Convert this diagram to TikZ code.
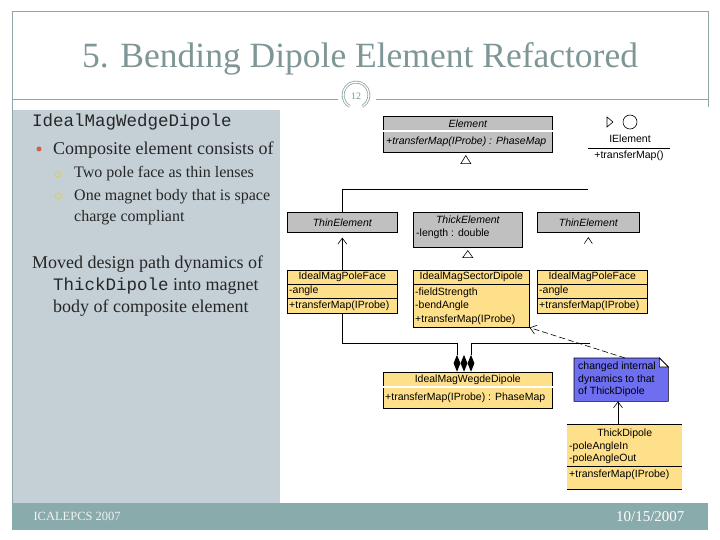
\documentclass[tikz,border=0pt]{standalone}
\usepackage{fontspec}
\setmainfont{Liberation Serif}
\setmonofont{Liberation Mono}
\newfontfamily\umlsans{Liberation Sans}
\usetikzlibrary{positioning,calc,arrows.meta,shapes.geometric}

\definecolor{frameline}{HTML}{8FA6A6}
\definecolor{titlegrey}{HTML}{7E9696}
\definecolor{panelgrey}{HTML}{C5D0D6}
\definecolor{footbar}{HTML}{8AABAB}
\definecolor{umlgrey}{HTML}{C0C0C0}
\definecolor{umlyellow}{HTML}{FFE08A}
\definecolor{noteblue}{HTML}{6E6EF0}
\definecolor{dotred}{HTML}{D0604E}
\definecolor{ringyellow}{HTML}{D8CF6E}

\begin{document}
\begin{tikzpicture}[x=1pt,y=-1pt,
  uml/.style={font=\umlsans\fontsize{10.5}{12}\selectfont, inner sep=1pt},
  cname/.style={uml, anchor=center},
  member/.style={uml, anchor=west},
  classbox/.style={draw, line width=0.6pt, anchor=north west, inner sep=0pt},
  greyclass/.style={classbox, fill=umlgrey},
  yellowclass/.style={classbox, fill=umlyellow},
  slidetext/.style={anchor=base west, inner sep=0pt, text=black!85},
  lvlone/.style={slidetext, font=\fontsize{18}{22}\selectfont},
  lvltwo/.style={slidetext, font=\fontsize{16}{20}\selectfont},
  openhead/.style={-{Straight Barb[length=6pt,width=9pt]}},
  comp/.style={diamond, fill=black, inner sep=0pt, minimum width=7pt, minimum height=17pt, anchor=south}]
\useasboundingbox (0,0) rectangle (720,540);
\fill[white] (0,0) rectangle (720,540);
% slide frame
\fill[panelgrey] (12,110) rectangle (280,503);
\fill[footbar] (12,503) rectangle (708,530);
\draw[frameline, line width=1pt] (12,503) -- (12,12) -- (708,12) -- (708,107);
\draw[frameline, line width=1pt] (12,100) -- (338,100) (376,100) -- (708,100);
\draw[frameline, double, double distance=1.2pt, line width=0.8pt]
  (362.5,106.3) arc[start angle=-60, end angle=240, radius=13pt];
\node[text=titlegrey, font=\fontsize{10}{12}\selectfont] (slideno) at (356,96) {12};
\node[text=titlegrey, font=\fontsize{35.5}{40}\selectfont, anchor=base] (title) at (360,68)
  {5. Bending Dipole Element Refactored};

% left text
\node[slidetext, font=\ttfamily\fontsize{17.5}{20}\selectfont] (wedgename) at (32,127) {IdealMagWedgeDipole};
\fill[dotred] (39,149) circle (2.5);
\node[lvlone] (composite) at (53,155) {Composite element consists of};
\draw[ringyellow, line width=1pt] (58,174) circle (3);
\draw[ringyellow, line width=1pt] (58,196) circle (3);
\node[lvltwo] (twopole) at (74,178) {Two pole face as thin lenses};
\node[lvltwo] (onebody) at (74,201) {One magnet body that is space};
\node[lvltwo] (compliant) at (74,222) {charge compliant};
\node[lvlone] (moved) at (32,268) {Moved design path dynamics of};
\node[lvlone] (intomagnet) at (53,290) {{\ttfamily\fontsize{17.5}{20}\selectfont ThickDipole} into magnet};
\node[lvlone] (bodyof) at (53,312) {body of composite element};

% footer
\node[anchor=base west, text=white!95!black, font=\fontsize{12.5}{14}\selectfont] (conf) at (30,520) {ICALEPCS 2007};
\node[anchor=base east, text=white, font=\fontsize{15}{18}\selectfont] (date) at (688,521) {10/15/2007};

% Element
\node[greyclass, minimum width=169pt, minimum height=36pt] (element) at (383,116) {};
\draw[line width=0.6pt, double, double distance=1.2pt] ($(element.north west)+(0,15)$) -- ($(element.north east)+(0,15)$);
\node[cname] (element-name) at ($(element.north)+(0,7.5)$) {\itshape Element};
\node[member] (element-op) at ($(element.north west)+(2,26)$) {\itshape +transferMap(IProbe) : PhaseMap};
\draw[line width=0.6pt, fill=white] ($(element.south)+(-2,3)$) -- ++(-5,8) -- ++(10,0) -- cycle;

% IElement
\draw[line width=0.6pt] (607,117) -- (613,122) -- (607,127) -- cycle;
\node[circle, draw, line width=0.6pt, minimum size=14pt, inner sep=0pt] (ielement-ball) at (630,122) {};
\node[cname] (ielement-name) at (630,139) {IElement};
\draw[line width=0.6pt] (588,148) -- (670,148);
\node[cname] (ielement-op) at (629,156) {+transferMap()};

% abstract row
\node[greyclass, minimum width=110pt, minimum height=20pt] (thinL) at (287,212) {};
\node[cname] (thinL-name) at (thinL.center) {\itshape ThinElement};
\node[greyclass, minimum width=109pt, minimum height=35pt] (thick) at (413,212) {};
\node[cname] (thick-name) at ($(thick.north)+(0,8)$) {\itshape ThickElement};
\node[member] (thick-len) at ($(thick.north west)+(2,22)$) {-length : double};
\node[greyclass, minimum width=102pt, minimum height=20pt] (thinR) at (537,212) {};
\node[cname] (thinR-name) at (thinR.center) {\itshape ThinElement};
\coordinate (genbar) at (588,189);
\draw[line width=0.6pt] (thinL.north) |- (genbar);
\draw[line width=0.6pt, fill=white] ($(thick.south)+(0,3)$) -- ++(-5,7) -- ++(10,0) -- cycle;
\draw[line width=0.6pt] ($(thinR.south)+(-4,11)$) -- ($(thinR.south)+(0,5)$) -- ($(thinR.south)+(4,11)$);

% concrete row
\node[yellowclass, minimum width=110pt, minimum height=43pt] (poleL) at (287,270) {};
\draw[line width=0.6pt] ($(poleL.north west)+(0,14)$) -- ($(poleL.north east)+(0,14)$)
  ($(poleL.north west)+(0,28)$) -- ($(poleL.north east)+(0,28)$);
\node[cname] (poleL-name) at ($(poleL.north)+(0,7)$) {IdealMagPoleFace};
\node[member] (poleL-angle) at ($(poleL.north west)+(1,21)$) {-angle};
\node[member] (poleL-op) at ($(poleL.north west)+(1,36)$) {+transferMap(IProbe)};
\node[yellowclass, minimum width=116pt, minimum height=57pt] (sector) at (413,270) {};
\draw[line width=0.6pt] ($(sector.north west)+(0,14)$) -- ($(sector.north east)+(0,14)$);
\node[cname] (sector-name) at ($(sector.north)+(0,7)$) {IdealMagSectorDipole};
\node[member] (sector-field) at ($(sector.north west)+(1,23)$) {-fieldStrength};
\node[member] (sector-bend) at ($(sector.north west)+(1,36)$) {-bendAngle};
\node[member] (sector-op) at ($(sector.north west)+(1,50)$) {+transferMap(IProbe)};
\node[yellowclass, minimum width=110pt, minimum height=43pt] (poleR) at (537,270) {};
\draw[line width=0.6pt] ($(poleR.north west)+(0,14)$) -- ($(poleR.north east)+(0,14)$)
  ($(poleR.north west)+(0,28)$) -- ($(poleR.north east)+(0,28)$);
\node[cname] (poleR-name) at ($(poleR.north)+(0,7)$) {IdealMagPoleFace};
\node[member] (poleR-angle) at ($(poleR.north west)+(1,21)$) {-angle};
\node[member] (poleR-op) at ($(poleR.north west)+(1,36)$) {+transferMap(IProbe)};
\draw[line width=0.6pt, openhead, shorten >=5pt] (poleL.north) -- (thinL.south);

% composite
\node[yellowclass, minimum width=169pt, minimum height=36pt] (wedge) at (383,372) {};
\draw[line width=0.6pt, double, double distance=1.2pt] ($(wedge.north west)+(0,15)$) -- ($(wedge.north east)+(0,15)$);
\node[cname] (wedge-name) at ($(wedge.north)+(0,8)$) {IdealMagWegdeDipole};
\node[member] (wedge-op) at ($(wedge.north west)+(1,26)$) {+transferMap(IProbe) : PhaseMap};
\node[comp] (dmdA) at (457,372) {};
\node[comp] (dmdB) at (464,372) {};
\node[comp] (dmdC) at (471,372) {};
\coordinate (compR) at (590,343);
\draw[line width=0.6pt] (poleL.south) -- ++(0,30) -| (dmdA.north);
\draw[line width=0.6pt] (compR) -| (dmdC.north);

% note
\node[minimum width=94pt, minimum height=43pt, anchor=north west, inner sep=0pt] (note) at (574,358) {};
\draw[line width=0.6pt, fill=noteblue] (note.north west) -- ($(note.north east)+(-9,0)$) -- ($(note.north east)+(0,9)$)
  -- (note.south east) -- (note.south west) -- cycle;
\draw[line width=0.6pt, fill=white] ($(note.north east)+(-9,0)$) -- ($(note.north east)+(-9,9)$) -- ($(note.north east)+(0,9)$) -- cycle;
\node[uml, anchor=north west, align=left, font=\umlsans\fontsize{10.5}{12.5}\selectfont] (note-text)
  at ($(note.north west)+(3,3)$) {changed internal\\dynamics to that\\of ThickDipole};
\draw[line width=0.6pt, dash pattern=on 6pt off 3pt, openhead] ($(note.north west)+(51,0)$) -- (sector.south east);

% ThickDipole
\node[fill=umlyellow, minimum width=115pt, minimum height=65pt, anchor=north west, inner sep=0pt] (thickdip) at (567,424) {};
\draw[line width=0.6pt] (thickdip.north west) -- (thickdip.north east)
  ($(thickdip.north west)+(0,42)$) -- ($(thickdip.north east)+(0,42)$)
  (thickdip.south west) -- (thickdip.south east);
\node[cname] (thickdip-name) at ($(thickdip.north)+(0,10)$) {ThickDipole};
\node[member] (thickdip-in) at ($(thickdip.north west)+(1,23)$) {-poleAngleIn};
\node[member] (thickdip-out) at ($(thickdip.north west)+(1,35)$) {-poleAngleOut};
\node[member] (thickdip-op) at ($(thickdip.north west)+(1,51)$) {+transferMap(IProbe)};
\draw[line width=0.6pt, openhead] (thickdip.north -| 618,0) -- (note.south -| 618,0);
\end{tikzpicture}
\end{document}
